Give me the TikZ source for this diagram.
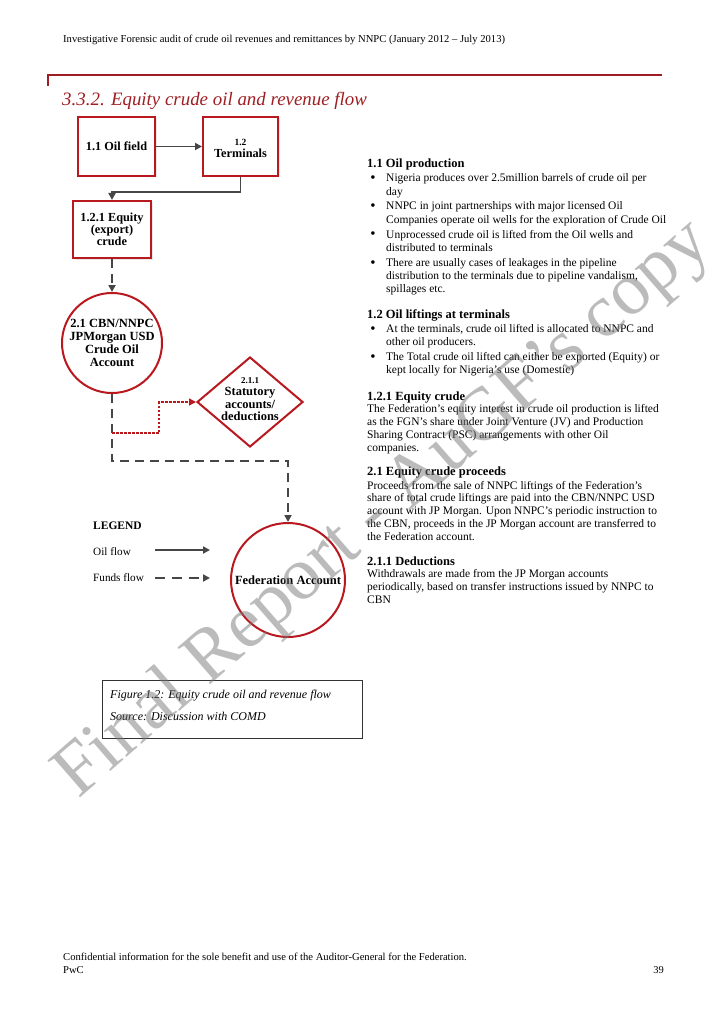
\documentclass[tikz,border=0pt]{standalone}
\usepackage{fontspec}
\setmainfont{Liberation Serif}
\usetikzlibrary{arrows.meta,shapes.geometric,shadows}
\definecolor{pwcred}{RGB}{160,30,35}
\definecolor{boxred}{RGB}{185,25,30}
\definecolor{flowgray}{RGB}{70,70,70}
\definecolor{wmgray}{RGB}{120,120,120}
\begin{document}
\begin{tikzpicture}[x=1pt,y=-1pt,
  redbox/.style={draw=boxred, line width=2pt, fill=white, align=center, inner sep=0pt,
    font=\bfseries\fontsize{12.3}{12}\selectfont,
    drop shadow={opacity=0.18, shadow xshift=1.5pt, shadow yshift=-1.5pt}},
  redcircle/.style={circle, draw=boxred, line width=2pt, fill=white, align=center, inner sep=0pt,
    font=\bfseries\fontsize{12.5}{13}\selectfont},
  reddiamond/.style={diamond, draw=boxred, line width=2pt, fill=white, inner sep=0pt},
  oil/.style={draw=flowgray, line width=1.8pt, -{Triangle[length=7pt,width=7pt]}},
  fund/.style={oil, dash pattern=on 9pt off 6pt},
  ded/.style={draw=boxred, line width=1.5pt, dash pattern=on 2.5pt off 1.5pt, -{Triangle[length=7pt,width=7pt]}},
  body/.style={anchor=base west, inner sep=0pt, align=left, font=\fontsize{11.5}{13.4}\selectfont},
  para/.style={anchor=base west, inner sep=0pt, align=left, font=\fontsize{11.5}{12.9}\selectfont},
  head/.style={anchor=base west, inner sep=0pt, font=\bfseries\fontsize{12.5}{13}\selectfont},
  bul/.style={anchor=base, inner sep=0pt, font=\fontsize{15}{13}\selectfont},
  small/.style={anchor=base west, inner sep=0pt, font=\fontsize{10.6}{12}\selectfont}
]
\useasboundingbox (0,0) rectangle (723,1024);
\fill[white] (0,0) rectangle (723,1024);

% header and footer
\node[small] (hdr) at (63,43) {Investigative Forensic audit of crude oil revenues and remittances by NNPC (January 2012 – July 2013)};
\draw[pwcred, line width=1.2pt] (48,86) -- (48,75) -- (662,75);
\node[anchor=base west, inner sep=0pt, text=pwcred, font=\itshape\fontsize{18.9}{20}\selectfont] (title) at (62,106) {3.3.2. Equity crude oil and revenue flow};
\node[small] (ft1) at (63,960) {Confidential information for the sole benefit and use of the Auditor-General for the Federation.};
\node[small] (ft2) at (63,973) {PwC};
\node[anchor=base east, inner sep=0pt, font=\fontsize{10.5}{12}\selectfont] (pg) at (664,973) {39};

% diagram
\node[redbox, minimum width=77pt, minimum height=59pt] (of) at (116.5,146.5) {1.1 Oil field};
\node[redbox, minimum width=75pt, minimum height=59pt] (term) at (240.5,146.5) {};
\node[align=center, inner sep=0pt, font=\bfseries\fontsize{12.3}{12}\selectfont] (termt) at (240.5,148) {{\fontsize{9.5}{11}\selectfont 1.2}\\Terminals};
\node[redbox, minimum width=78pt, minimum height=57pt] (eq) at (112,229.5) {1.2.1 Equity\\(export)\\crude};
\node[redcircle, minimum size=100pt] (cbn) at (112,343) {2.1 CBN/NNPC\\JPMorgan USD\\Crude Oil\\Account};
\node[reddiamond, minimum width=106pt, minimum height=90pt] (dia) at (250,402) {};
\node[align=center, inner sep=0pt, font=\bfseries\fontsize{12.5}{12.3}\selectfont] (diat) at (250,399) {{\fontsize{9}{11}\selectfont 2.1.1}\\Statutory\\accounts/\\deductions};
\node[redcircle, minimum size=114pt] (fed) at (288,580) {Federation Account};

\coordinate (j1) at (176,192);
\coordinate (j2) at (200,461);
\coordinate (j3) at (112,433);
\coordinate (j4) at (159,402);

\draw[oil] (of) -- (term);
\draw[oil] (term.south) |- (j1) -| (eq.north);
\draw[fund] (eq.south) -- (cbn.north);
\draw[fund] (cbn.south) |- (j2) -| (fed.north);
\draw[ded] (j3) -| (j4) -- (dia.west);

% legend
\node[anchor=base west, inner sep=0pt, font=\bfseries\fontsize{11.5}{12}\selectfont] (lg) at (93,529) {LEGEND};
\node[small, font=\fontsize{11.2}{12}\selectfont] (lo) at (93,555) {Oil flow};
\node[small, font=\fontsize{11.2}{12}\selectfont] (lf) at (93,581) {Funds flow};
\coordinate (lo1) at (155,550);
\coordinate (lo2) at (210,550);
\coordinate (lf1) at (155,578);
\coordinate (lf2) at (210,578);
\draw[oil] (lo1) -- (lo2);
\draw[fund, dash pattern=on 10pt off 7pt] (lf1) -- (lf2);

% caption box
\node[draw=black!80, line width=0.9pt, minimum width=260pt, minimum height=58pt, inner sep=0pt] (cap) at (232,709) {};
\node[anchor=base west, inner sep=0pt, font=\itshape\fontsize{12}{12}\selectfont] (cap1) at (110,698) {Figure 1.2: Equity crude oil and revenue flow};
\node[anchor=base west, inner sep=0pt, font=\itshape\fontsize{12}{12}\selectfont] (cap2) at (110,720) {Source: Discussion with COMD};

% right column text (base anchor = baseline of last line)
\node[head] (h1) at (367,168) {1.1 Oil production};
\node[bul] (d1) at (373,183) {•};
\node[body] (b1) at (386,195.4) {Nigeria produces over 2.5million barrels of crude oil per\\day};
\node[bul] (d2) at (373,211) {•};
\node[body] (b2) at (386,223.4) {NNPC in joint partnerships with major licensed Oil\\Companies operate oil wells for the exploration of Crude Oil};
\node[bul] (d3) at (373,239) {•};
\node[body] (b3) at (386,251.4) {Unprocessed crude oil is lifted from the Oil wells and\\distributed to terminals};
\node[bul] (d4) at (373,267) {•};
\node[body] (b4) at (386,292.8) {There are usually cases of leakages in the pipeline\\distribution to the terminals due to pipeline vandalism,\\spillages etc.};

\node[head] (h2) at (367,318) {1.2 Oil liftings at terminals};
\node[bul] (d5) at (373,333) {•};
\node[body] (b5) at (386,345.4) {At the terminals, crude oil lifted is allocated to NNPC and\\other oil producers.};
\node[bul] (d6) at (373,361) {•};
\node[body] (b6) at (386,373.4) {The Total crude oil lifted can either be exported (Equity) or\\kept locally for Nigeria's use (Domestic)};

\node[head] (h3) at (367,400) {1.2.1 Equity crude};
\node[para] (p3) at (367,451.2) {The Federation's equity interest in crude oil production is lifted\\as the FGN's share under Joint Venture (JV) and Production\\Sharing Contract (PSC) arrangements with other Oil\\companies.};

\node[head] (h4) at (367,475) {2.1 Equity crude proceeds};
\node[para] (p4) at (367,540.6) {Proceeds from the sale of NNPC liftings of the Federation’s\\share of total crude liftings are paid into the CBN/NNPC USD\\account with JP Morgan. Upon NNPC's periodic instruction to\\the CBN, proceeds in the JP Morgan account are transferred to\\the Federation account.};

\node[head] (h5) at (367,565) {2.1.1 Deductions};
\node[para] (p5) at (367,603.3) {Withdrawals are made from the JP Morgan accounts\\periodically, based on transfer instructions issued by NNPC to\\CBN};

% watermark
\node[rotate=41, text=wmgray, opacity=0.5, inner sep=0pt, font=\fontsize{75}{75}\selectfont] (wm) at (384,510) {Final Report - AuGF's copy};
\end{tikzpicture}
\end{document}
